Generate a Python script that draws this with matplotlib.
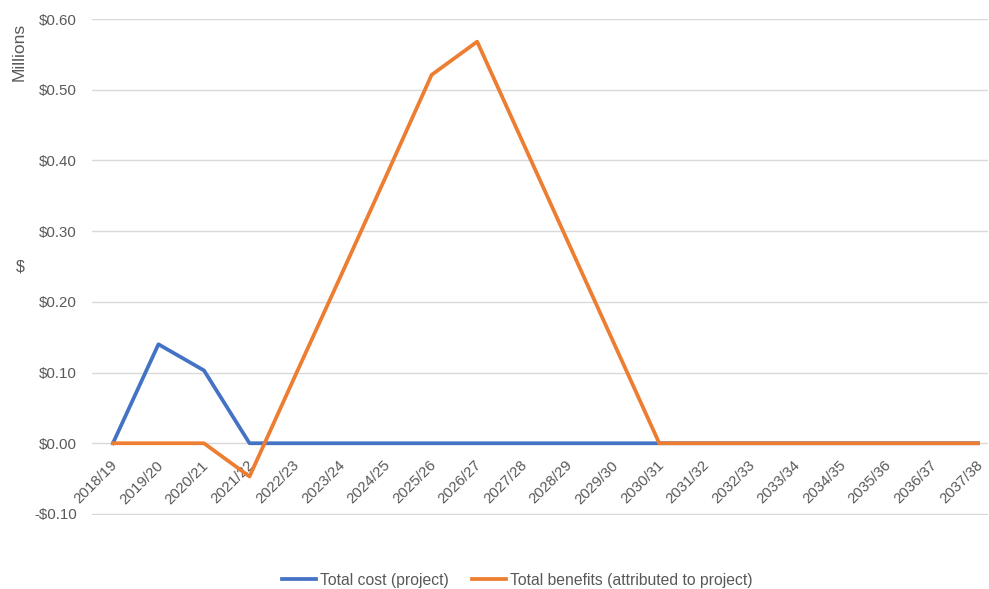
import matplotlib.pyplot as plt
from matplotlib.ticker import FuncFormatter

plt.rcParams['font.family'] = ['Liberation Sans', 'DejaVu Sans']

years = ['2018/19', '2019/20', '2020/21', '2021/22', '2022/23', '2023/24', '2024/25',
         '2025/26', '2026/27', '2027/28', '2028/29', '2029/30', '2030/31', '2031/32',
         '2032/33', '2033/34', '2034/35', '2035/36', '2036/37', '2037/38']
total_cost = [0, 0.140, 0.103, 0, 0, 0, 0, 0, 0, 0, 0, 0, 0, 0, 0, 0, 0, 0, 0, 0]
total_benefits = [0, 0, 0, -0.047, 0.095, 0.236, 0.378, 0.521, 0.568, 0.426, 0.284,
                  0.142, 0, 0, 0, 0, 0, 0, 0, 0]

grey = '#595959'
fig = plt.figure(figsize=(9.89, 5.89), dpi=100)
ax = fig.add_axes([0.093, 0.1256, 0.906, 0.8421])

x = range(len(years))
ax.plot(x, total_cost, color='#4472C4', lw=2.7, label='Total cost (project)', zorder=3)
ax.plot(x, total_benefits, color='#ED7D31', lw=2.7,
        label='Total benefits (attributed to project)', zorder=4)

ax.set_xlim(-0.46, 19.22)
ax.set_ylim(-0.1015, 0.60)
ax.set_yticks([-0.1, 0, 0.1, 0.2, 0.3, 0.4, 0.5, 0.6])
ax.yaxis.set_major_formatter(FuncFormatter(
    lambda v, p: ('-$%.2f' % abs(v)) if v < -1e-9 else '$%.2f' % abs(v)))
ax.grid(axis='y', color='#D9D9D9', lw=1, zorder=0)
for s in ax.spines.values():
    s.set_visible(False)
ax.tick_params(axis='y', length=0, pad=11, labelsize=10.8, labelcolor=grey)

# category labels hang from the zero line
ax.set_xticks([])
for i, lab in enumerate(years):
    ax.text(i - 0.06, -0.021, lab, rotation=45, ha='right', va='top',
            rotation_mode='anchor', fontsize=10.8, color=grey)

fig.text(20 / 989, 1 - 267 / 589, '$', ha='center', va='center',
         fontsize=11.5, color=grey)
fig.text(19 / 989, 1 - 52 / 589, 'Millions', rotation=90, ha='center', va='center',
         fontsize=12.5, color=grey)

fig.legend(loc='center', bbox_to_anchor=(517 / 989, 1 - 580 / 589), ncol=2,
           frameon=False, fontsize=11.3, labelcolor=grey, handlelength=2.2,
           handletextpad=0.2, columnspacing=1.5)

fig.savefig('out.png', dpi=100)
